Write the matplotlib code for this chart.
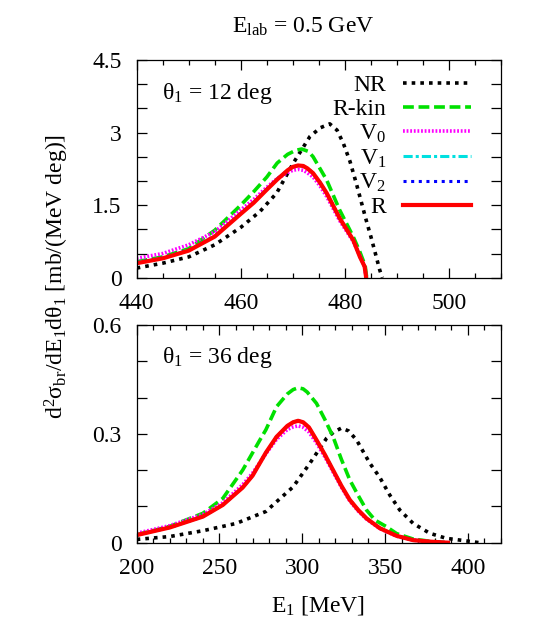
import matplotlib
matplotlib.use("Agg")
import matplotlib.pyplot as plt
from matplotlib.ticker import MultipleLocator, FixedLocator

plt.rcParams["font.family"] = ["Liberation Serif", "DejaVu Serif"]
plt.rcParams["mathtext.fontset"] = "custom"
plt.rcParams["mathtext.rm"] = "Liberation Serif"
plt.rcParams["mathtext.it"] = "Liberation Serif:italic"
plt.rcParams["mathtext.default"] = "regular"
plt.rcParams["font.size"] = 17

# theta_1 = 12 deg  (E_1 in MeV, cross section in mb/(MeV deg))
e12_nr = [440, 445, 450, 455, 460, 463.7, 466.9, 470.1, 473.3, 475.3, 477.1,
          478.5, 479.7, 481, 482.2, 483.2, 484.1, 485, 485.7, 486.7, 487.2]
nr12 = [0.20, 0.30, 0.43, 0.68, 1.04, 1.37, 1.75, 2.37, 2.92, 3.10, 3.18,
        3.05, 2.78, 2.40, 1.95, 1.55, 1.19, 0.85, 0.57, 0.16, 0.0]

e12_rkin = [440, 445, 450, 455, 460, 462.5, 465, 467, 469, 470.5, 471.7, 473,
            473.9, 476.5, 479, 481.6, 482.9, 483.9, 484.2]
rkin12 = [0.33, 0.43, 0.60, 0.98, 1.50, 1.78, 2.08, 2.37, 2.55, 2.63, 2.66,
          2.61, 2.50, 2.02, 1.40, 0.85, 0.53, 0.25, 0.0]

e12_r = [440, 445, 450, 455, 460, 462.5, 465, 467, 469, 470, 471, 472, 472.8,
         473.9, 475.2, 476.5, 479, 481.6, 482.9, 483.8, 484.1]
v0_12 = [0.40, 0.50, 0.68, 0.95, 1.40, 1.62, 1.87, 2.05, 2.17, 2.22, 2.24, 2.22,
         2.17, 2.08, 1.90, 1.68, 1.18, 0.75, 0.45, 0.22, 0.0]
v1_12 = [0.31, 0.41, 0.57, 0.86, 1.33, 1.56, 1.83, 2.04, 2.22, 2.29, 2.32, 2.31,
         2.26, 2.16, 1.97, 1.75, 1.23, 0.78, 0.43, 0.23, 0.0]
v2_12 = [0.31, 0.41, 0.57, 0.86, 1.33, 1.56, 1.83, 2.04, 2.22, 2.29, 2.32, 2.31,
         2.26, 2.16, 1.97, 1.75, 1.23, 0.78, 0.43, 0.23, 0.0]
r12 = [0.30, 0.40, 0.56, 0.85, 1.32, 1.55, 1.82, 2.03, 2.22, 2.29, 2.32, 2.31,
       2.26, 2.16, 1.97, 1.75, 1.23, 0.78, 0.43, 0.23, 0.0]

# theta_1 = 36 deg
e36_nr = [200, 220, 240, 260, 278, 284.5, 294.5, 304.6, 314.7, 319, 323.7,
          328, 332.8, 340.8, 346.8, 352.9, 358.9, 367, 377, 387, 399, 407]
nr36 = [0.009, 0.017, 0.033, 0.053, 0.086, 0.113, 0.154, 0.219, 0.288, 0.305,
        0.316, 0.308, 0.283, 0.219, 0.180, 0.131, 0.090, 0.053, 0.026, 0.012,
        0.005, 0.0]

e36_rkin = [200, 220, 240, 252, 264, 274.4, 278, 284.5, 291, 294.5, 297.5,
            300.5, 303, 308.6, 313.6, 318.6, 323.6, 328.7, 333.8, 338.8, 344,
            350.9, 357, 367, 377, 388]
rkin36 = [0.022, 0.045, 0.081, 0.122, 0.200, 0.283, 0.311, 0.375, 0.410, 0.422,
          0.427, 0.424, 0.415, 0.384, 0.340, 0.292, 0.230, 0.173, 0.130, 0.090,
          0.062, 0.044, 0.025, 0.010, 0.004, 0.0]

e36_r = [200, 220, 240, 252, 264, 270, 278, 284.5, 291, 294.5, 297.5, 300.5,
         304, 308.6, 313.6, 318.6, 323.6, 328.7, 333.8, 338.8, 346.8, 356.9,
         367, 377, 388]
v0_36 = [0.026, 0.047, 0.078, 0.110, 0.160, 0.192, 0.245, 0.285, 0.312, 0.319,
         0.322, 0.318, 0.305, 0.275, 0.237, 0.195, 0.153, 0.115, 0.087, 0.065,
         0.039, 0.018, 0.007, 0.003, 0.0]
v1_36 = [0.021, 0.042, 0.072, 0.104, 0.152, 0.185, 0.248, 0.292, 0.322, 0.332,
         0.336, 0.332, 0.318, 0.283, 0.243, 0.200, 0.157, 0.118, 0.090, 0.067,
         0.040, 0.019, 0.007, 0.003, 0.0]
v2_36 = [0.021, 0.042, 0.072, 0.104, 0.152, 0.185, 0.248, 0.292, 0.322, 0.332,
         0.336, 0.332, 0.318, 0.283, 0.243, 0.200, 0.157, 0.118, 0.090, 0.067,
         0.040, 0.019, 0.007, 0.003, 0.0]
r36 = [0.021, 0.042, 0.072, 0.104, 0.152, 0.185, 0.248, 0.292, 0.322, 0.332,
       0.336, 0.332, 0.318, 0.283, 0.243, 0.200, 0.157, 0.118, 0.090, 0.067,
       0.040, 0.019, 0.007, 0.003, 0.0]

labels = ["NR", "R-kin", "V$_0$", "V$_1$", "V$_2$", "R"]
styles = [
    dict(color="black", ls=(0, (1, 1.4)), lw=2.6),
    dict(color="#00e000", ls=(0, (3, 1.3)), lw=2.6),
    dict(color="#ff00ff", ls=(0, (0.5, 0.5)), lw=2.6),
    dict(color="#00e0e0", ls=(0, (3, 1, 1, 1)), lw=2.2),
    dict(color="#0000ff", ls=(0, (1, 1.5)), lw=2.2),
    dict(color="#ff0000", ls="-", lw=3.0),
]

fig = plt.figure(figsize=(5.45, 6.39), dpi=100)
ax1 = fig.add_axes([0.2508, 0.5654, 0.6684, 0.3407])
ax2 = fig.add_axes([0.2508, 0.1507, 0.6684, 0.3407])

panels = [
    (ax1, [(e12_nr, nr12), (e12_rkin, rkin12), (e12_r, v0_12), (e12_r, v1_12),
           (e12_r, v2_12), (e12_r, r12)]),
    (ax2, [(e36_nr, nr36), (e36_rkin, rkin36), (e36_r, v0_36), (e36_r, v1_36),
           (e36_r, v2_36), (e36_r, r36)]),
]
for ax, series in panels:
    for (x, y), lab, st in zip(series, labels, styles):
        ax.plot(x, y, label=lab, dash_capstyle="butt", **st)
    ax.tick_params(which="both", direction="in", top=True, right=True,
                   labelsize=17, width=0.9)
    ax.tick_params(axis="x", which="major", length=7, pad=11)
    ax.tick_params(axis="x", which="minor", length=3.5)
    ax.tick_params(axis="y", which="both", length=7, pad=11)
    for sp in ax.spines.values():
        sp.set_linewidth(0.9)

ax1.set_xlim(440, 510)
ax1.set_ylim(0, 4.5)
ax1.xaxis.set_major_locator(FixedLocator([440, 460, 480, 500]))
ax1.xaxis.set_minor_locator(MultipleLocator(5))
ax1.yaxis.set_major_locator(FixedLocator([0, 1.5, 3, 4.5]))
ax1.yaxis.set_minor_locator(MultipleLocator(0.5))
ax1.set_yticklabels(["0", "1.5", "3", "4.5"])
ax1.text(0.07, 0.819, "θ$_1$ = 12 deg", transform=ax1.transAxes,
         ha="left", va="baseline")

ax2.set_xlim(200, 420)
ax2.set_ylim(0, 0.6)
ax2.xaxis.set_major_locator(MultipleLocator(50))
ax2.xaxis.set_minor_locator(MultipleLocator(10))
ax2.yaxis.set_major_locator(FixedLocator([0, 0.3, 0.6]))
ax2.yaxis.set_minor_locator(MultipleLocator(0.1))
ax2.set_yticklabels(["0", "0.3", "0.6"])
ax2.text(0.07, 0.824, "θ$_1$ = 36 deg", transform=ax2.transAxes,
         ha="left", va="baseline")

ax1.legend(loc="upper right", bbox_to_anchor=(0.918, 0.932), frameon=False,
           markerfirst=False, handlelength=2.9, handletextpad=0.7,
           labelspacing=0.1, borderaxespad=0, borderpad=0, fontsize=17)

fig.text(0.556, 0.958, "E$_{\\mathrm{lab}}$ = 0.5 GeV", ha="center",
         va="center", fontsize=17)
fig.text(0.105, 0.567, "d$^2$σ$_{\\mathrm{br}}$/dE$_1$dθ$_1$ [mb/(MeV deg)]",
         rotation=90, ha="center", va="center", fontsize=17)
fig.text(0.584, 0.053, "E$_1$ [MeV]", ha="center", va="center", fontsize=17)

fig.savefig("out.png", dpi=100)
